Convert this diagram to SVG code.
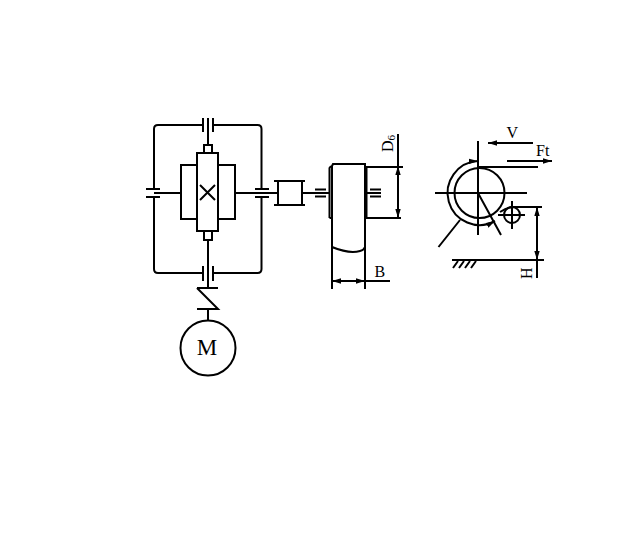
<svg xmlns="http://www.w3.org/2000/svg" width="639" height="533" viewBox="0 0 639 533">
<style>
.l{fill:none;stroke:#000;stroke-width:2}
.t{font-family:"Liberation Serif",serif;fill:#000;stroke:none}
</style>
<defs>
<marker id="a" viewBox="0 0 10 6" refX="10" refY="3" markerWidth="9" markerHeight="6" markerUnits="userSpaceOnUse" orient="auto-start-reverse"><path d="M0 0L10 3L0 6Z" fill="#000"/></marker>
</defs>
<rect width="639" height="533" fill="#fff"/>
<g id="connectors" class="l">
<path d="M203 125H158Q154 125 154 129V189M154 197V269Q154 273 158 273H203"/>
<path d="M213 125H257.500Q261.500 125 261.500 129V189M261.500 197V269Q261.500 273 257.500 273H213"/>
<path d="M208 132V145M208 240V288M208 309V320"/>
<path d="M154 193H181M235 193H278M302 193H329"/>
<path d="M315 189.500H326M315 193H326M315 196.500H326M370 189.500H381M365 193H381M370 196.500H381"/>
</g>
<g id="gear-top" class="l"><path d="M203 118V132M213 118V132M208 118V132"/></g>
<g id="gear-bottom" class="l"><path d="M203 266V281M213 266V281M208 266V281"/></g>
<g id="gear-left" class="l"><path d="M146 189H160M146 197H160"/></g>
<g id="gear-right" class="l"><path d="M255 189H269M255 197H269"/></g>
<g id="reducer" class="l">
<rect x="181" y="165" width="54" height="54"/>
<rect x="197" y="153" width="21" height="78" fill="#fff"/>
<rect x="204" y="145" width="8" height="8"/>
<rect x="204" y="231" width="8" height="9"/>
<path d="M200 185L215 200M215 185L200 200"/>
</g>
<g id="brake" class="l"><path d="M197 288H218M197 288L218 309H197"/></g>
<g id="motor"><circle class="l" cx="208" cy="348" r="27.5"/><text class="t" x="207" y="355" font-size="23" text-anchor="middle">M</text></g>
<g id="coupling" class="l"><path d="M278 181V205M302 181V205M274 181H305M274 205H305"/></g>
<g id="drum" class="l">
<path d="M329.500 218V168L331 166M329.500 218H332"/>
<path d="M332 289V247L332 166L333 164H365V289M332 247Q349 254 360 251Q364 250 365 247"/>
<path d="M366.500 166V218"/>
</g>
<g id="dim-d" class="l">
<path d="M366 167H403M366 218H401"/>
<path d="M398 134V218" marker-end="url(#a)"/>
<path d="M398 166V174" marker-start="url(#a)"/>
<text class="t" transform="translate(393 152) rotate(-90)" font-size="16">D<tspan font-size="11" dy="2">6</tspan></text>
</g>
<g id="dim-b" class="l">
<path d="M365 281H390"/>
<path d="M332 281H365" marker-start="url(#a)" marker-end="url(#a)"/>
<text class="t" x="374.500" y="277" font-size="16">B</text>
</g>
<g id="wheel" class="l">
<circle cx="479.500" cy="193" r="25"/>
<path d="M478 141V235M435 193H527M478 167H538M478 193L501 235M438.500 247L460 220"/>
<path d="M478 161A32 32 0 1 0 495 221" marker-start="url(#a)" marker-end="url(#a)"/>
</g>
<g id="v" class="l"><path d="M533 143H488" marker-end="url(#a)"/><text class="t" x="506.500" y="138" font-size="16">V</text></g>
<g id="ft" class="l"><path d="M507 161H552" marker-end="url(#a)"/><text class="t" x="536" y="156" font-size="16">Ft</text></g>
<g id="pulley" class="l"><circle cx="512" cy="215" r="8"/><path d="M512 201V229M498 215H525M500 212Q506 208 512 207H542"/></g>
<g id="dim-h" class="l">
<path d="M537 207V260" marker-start="url(#a)" marker-end="url(#a)"/>
<path d="M537 260V278M452 260H544M453 268L458 261M459 268L464 261M465 268L470 261M471 268L476 261"/>
<text class="t" transform="translate(532 279) rotate(-90)" font-size="16">H</text>
</g>
</svg>
